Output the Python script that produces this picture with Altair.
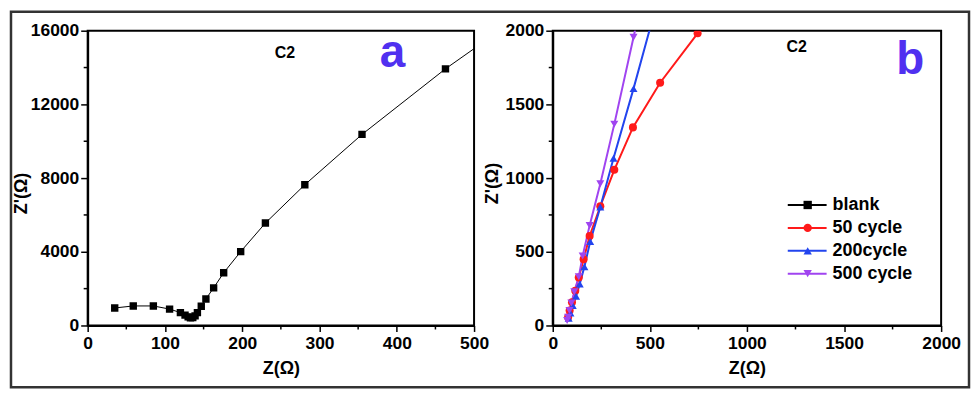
import altair as alt
import pandas as pd

FONT = "Liberation Sans"

# ---------------- Panel a : blank sample (C2) ----------------
a_x = [35, 59, 85, 106, 120, 126, 130, 133, 136, 139, 142, 147, 153, 163, 176, 198, 230, 281, 355, 463, 560]
a_y = [950, 1060, 1060, 890, 700, 560, 470, 420, 430, 520, 700, 1040, 1440, 2040, 2860, 4010, 5560, 7640, 10370, 13930, 16800]
a_xticks = [0, 100, 200, 300, 400, 500]
a_xminor = [50, 150, 250, 350, 450]
a_yticks = [0, 4000, 8000, 12000, 16000]
a_yminor = [2000, 6000, 10000, 14000]

# ---------------- Panel b : cycles (C2) ----------------
series_names = ["blank", "50 cycle", "200cycle", "500 cycle"]
series_colors = ["#000000", "#FF1A1A", "#2244EE", "#A044F0"]
series_shapes = ["square", "circle", "triangle-up", "triangle-down"]

c50_x = [79, 87, 99, 116, 134, 159, 190, 245, 317, 413, 553, 746]
c50_y = [56, 101, 157, 236, 326, 449, 607, 809, 1056, 1344, 1647, 1982]
c200_x = [82, 91, 103, 120, 139, 163, 193, 245, 313, 416, 560]
c200_y = [49, 85, 135, 198, 281, 398, 569, 804, 1135, 1607, 2300]
c500_x = [74, 79, 86, 96, 111, 134, 154, 190, 245, 317, 416, 440]
c500_y = [34, 56, 101, 153, 229, 330, 472, 679, 962, 1366, 1955, 2100]

b_xticks = [0, 500, 1000, 1500, 2000]
b_xminor = [250, 750, 1250, 1750]
b_yticks = [0, 500, 1000, 1500, 2000]
b_yminor = [250, 750, 1250, 1750]

W_A, W_B, H = 388, 390, 296
TITLE_BLUE = "#5030F0"

AXIS_STYLE = dict(
    format="d", grid=False, domainColor="black", domainWidth=2, tickColor="black", tickWidth=1.5,
    labelFont=FONT, labelFontSize=17.5, labelFontWeight="bold", labelColor="black",
    titleFont=FONT, titleFontSize=18, titleFontWeight="bold", titleColor="black",
    labelFlush=False, labelOverlap=False,
)


def text_layer(txt, x, y, size, color="black", align="center", baseline="alphabetic"):
    return alt.Chart(pd.DataFrame({"t": [txt]})).mark_text(
        font=FONT, fontSize=size, fontWeight="bold", color=color,
        align=align, baseline=baseline
    ).encode(text="t:N", x=alt.value(x), y=alt.value(y))


def minor_x(vals):
    return alt.Chart(pd.DataFrame({"x": vals})).mark_rule(color="black", strokeWidth=1.5).encode(
        x="x:Q", y=alt.value(H), y2=alt.value(H + 4))


def minor_y(vals):
    return alt.Chart(pd.DataFrame({"y": vals})).mark_rule(color="black", strokeWidth=1.5).encode(
        y="y:Q", x=alt.value(0), x2=alt.value(-4))


# ---------- panel a ----------
df_a = pd.DataFrame({"x": a_x, "y": a_y, "i": list(range(len(a_x)))})
xa = alt.X("x:Q", scale=alt.Scale(domain=[0, 500], nice=False, zero=False),
           axis=alt.Axis(title="Z(Ω)", values=a_xticks, tickSize=6,
                         labelPadding=3, titlePadding=8, **AXIS_STYLE))
ya = alt.Y("y:Q", scale=alt.Scale(domain=[0, 16000], nice=False),
           axis=alt.Axis(title="Z'(Ω)", values=a_yticks, tickSize=7,
                         labelPadding=2, titlePadding=0, titleY=163, **AXIS_STYLE))
base_a = alt.Chart(df_a).encode(x=xa, y=ya, order="i:Q")
line_a = base_a.mark_line(color="black", strokeWidth=1, clip=True)
pts_a = base_a.mark_point(shape="square", filled=True, color="black", size=55, opacity=1, clip=True)

frame = alt.Chart(pd.DataFrame({"k": [0]})).mark_rect(filled=False, color="#333333", strokeWidth=2.5).encode(
    x=alt.value(-77), x2=alt.value(885), y=alt.value(-19), y2=alt.value(358))

panel_a = alt.layer(
    frame, line_a, pts_a, minor_x(a_xminor), minor_y(a_yminor),
    text_layer("C2", 198, 27, 16), text_layer("a", 306, 36, 46, TITLE_BLUE)
).properties(width=W_A, height=H)

# ---------- panel b ----------
rows = []
for name, xs, ys in [("50 cycle", c50_x, c50_y), ("200cycle", c200_x, c200_y), ("500 cycle", c500_x, c500_y)]:
    for i, (xv, yv) in enumerate(zip(xs, ys)):
        rows.append({"series": name, "x": xv, "y": yv, "i": i})
df_b = pd.DataFrame(rows)

xb = alt.X("x:Q", scale=alt.Scale(domain=[0, 2000], nice=False, zero=False),
           axis=alt.Axis(title="Z(Ω)", values=b_xticks, tickSize=6,
                         labelPadding=3, titlePadding=8, **AXIS_STYLE))
yb = alt.Y("y:Q", scale=alt.Scale(domain=[0, 2000], nice=False),
           axis=alt.Axis(title="Z'(Ω)", values=b_yticks, tickSize=7,
                         labelPadding=2, titlePadding=4, titleY=153, **AXIS_STYLE))
color_scale = alt.Scale(domain=series_names, range=series_colors)
shape_scale = alt.Scale(domain=series_names, range=series_shapes)

line_b = alt.Chart(df_b).mark_line(strokeWidth=2, clip=True).encode(
    x=xb, y=yb, order="i:Q",
    color=alt.Color("series:N", scale=color_scale, legend=None))
pts_b = alt.Chart(df_b).mark_point(filled=True, size=65, opacity=1, clip=True).encode(
    x=xb, y=yb,
    color=alt.Color("series:N", scale=color_scale, legend=None),
    shape=alt.Shape("series:N", scale=shape_scale, legend=None))

# hand-built legend (line + marker + label), one entry per series
LEG_LINE_X1, LEG_LINE_X2, LEG_SYM_X, LEG_TEXT_X = 236, 275, 256, 281
LEG_Y0, LEG_DY = 175, 23
legend_layers = []
for k, (name, col, shp) in enumerate(zip(series_names, series_colors, series_shapes)):
    ly = LEG_Y0 + k * LEG_DY
    one = pd.DataFrame({"series": [name]})
    legend_layers.append(
        alt.Chart(one).mark_rule(color=col, strokeWidth=2).encode(
            x=alt.value(LEG_LINE_X1), x2=alt.value(LEG_LINE_X2), y=alt.value(ly)))
    legend_layers.append(
        alt.Chart(one).mark_point(shape=shp, filled=True, color=col, size=70, opacity=1).encode(
            x=alt.value(LEG_SYM_X), y=alt.value(ly)))
    legend_layers.append(
        alt.Chart(one).mark_text(font=FONT, fontSize=18, fontWeight="bold", color="black",
                                 align="left", baseline="middle").encode(
            text="series:N", x=alt.value(LEG_TEXT_X), y=alt.value(ly)))

panel_b = alt.layer(
    line_b, pts_b, minor_x(b_xminor), minor_y(b_yminor),
    text_layer("C2", 245, 21, 16), text_layer("b", 359, 43, 46, TITLE_BLUE),
    *legend_layers
).properties(width=W_B, height=H)

chart = alt.hconcat(panel_a, panel_b, spacing=79, bounds="flush").properties(
    padding={"left": 0, "top": 0, "right": 0, "bottom": 0}
).configure(
    font=FONT,
    style={"guide-label": {"font": FONT, "fontWeight": "bold", "fontSize": 17.5, "fill": "black"}},
).configure_view(
    stroke="black", strokeWidth=2
)

chart.save("out.html", embed_options={"renderer": "svg", "actions": False})
